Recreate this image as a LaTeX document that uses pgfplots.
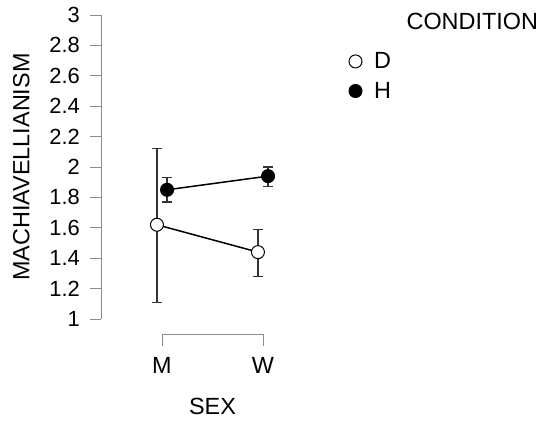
\documentclass[border=0pt]{standalone}
\usepackage{fontspec}
\setmainfont{Liberation Sans}
\usepackage{pgfplots}
\pgfplotsset{compat=1.18}
\definecolor{axgray}{HTML}{8C8C8C}
\definecolor{errgray}{HTML}{333333}
\newcommand\tickfont{\fontsize{22}{26}\selectfont}
\newcommand\labfont{\fontsize{23.5}{28}\selectfont}
\begin{document}
\begin{tikzpicture}
\begin{axis}[
  scale only axis,
  width=191.9bp, height=304bp,
  xmin=-0.6, xmax=1.3, ymin=1, ymax=3,
  clip=false,
  axis y line*=left,
  axis x line*=bottom,
  x axis line style={draw=none},
  y axis line style={axgray, line width=0.8bp},
  ytick={1,1.2,1.4,1.6,1.8,2,2.2,2.4,2.6,2.8,3},
  yticklabel={\tickfont\pgfmathprintnumber{\tick}},
  xtick={0,1}, xticklabels={{\labfont M},{\labfont W}},
  tick align=outside,
  major tick length=11bp,
  y tick style={axgray, line width=0.8bp},
  x tick style={draw=none},
  /pgf/number format/assume math mode=true,
  yticklabel style={xshift=-7bp},
  xticklabel style={yshift=-24bp},
  xlabel={\labfont SEX},
  ylabel={\labfont MACHIAVELLIANISM},
  xlabel style={at={(axis description cs:0.5789,0)}, anchor=center, yshift=-87bp},
  ylabel style={at={(axis description cs:0,0.5)}, anchor=center, yshift=80bp},
  legend style={draw=none, fill=none, at={(axis cs:1.82,2.78)}, anchor=north west, row sep=8bp},
  legend cell align=left,
]
\addlegendimage{only marks, mark=*, mark size=6.5bp, mark options={fill=white, draw=black, line width=1bp}}
\addlegendentry{\labfont\hspace{10bp}D}
\addlegendimage{only marks, mark=*, mark size=6.5bp, mark options={fill=black, draw=black, line width=1bp}}
\addlegendentry{\labfont\hspace{10bp}H}

\addplot[forget plot, black, line width=1.5bp, mark=*, mark size=6.5bp,
  mark options={fill=white, draw=black, line width=1bp},
  error bars/.cd, y dir=both, y explicit,
  error bar style={errgray, line width=1.2bp},
  error mark options={rotate=90, mark size=5bp, errgray, line width=1.2bp}]
  coordinates {(-0.05,1.62) += (0,0.50) -= (0,0.51)
               (0.95,1.44) += (0,0.15) -= (0,0.16)};
\addplot[forget plot, black, line width=1.5bp, mark=*, mark size=6.5bp,
  mark options={fill=black, draw=black, line width=1bp},
  error bars/.cd, y dir=both, y explicit,
  error bar style={errgray, line width=1.2bp},
  error mark options={rotate=90, mark size=5bp, errgray, line width=1.2bp}]
  coordinates {(0.05,1.85) += (0,0.08) -= (0,0.08)
               (1.05,1.94) += (0,0.06) -= (0,0.07)};

\draw[axgray, line width=0.8bp] (axis cs:0,0.824) -- (axis cs:0,0.901) -- (axis cs:1,0.901) -- (axis cs:1,0.824);
\node[anchor=west, font=\fontsize{23.5}{28}\selectfont, inner sep=0pt] at (axis cs:2.42,2.958) {CONDITION};
\coordinate (P) at (axis cs:0,1);
\end{axis}
\pgfresetboundingbox
\path (P) ++(-162bp,-103bp) rectangle ++(543bp,422bp);
\end{tikzpicture}
\end{document}
